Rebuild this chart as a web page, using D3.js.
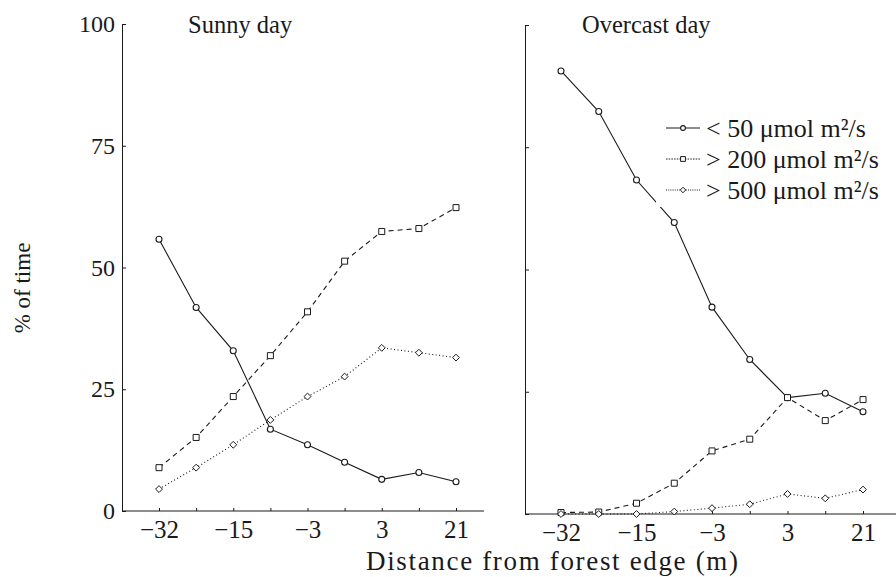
<!DOCTYPE html>
<html>
<head>
<meta charset="utf-8">
<script src="https://cdn.jsdelivr.net/npm/d3@7"></script>
<style>
	body { margin: 0; background: #fff; }
	svg text { font-family: "Liberation Serif", "Times New Roman", serif; fill: #1a1a1a; }
</style>
</head>
<body>
<svg id="chart" width="896" height="577"></svg>
<script>
// Distance categories along the x axis, only every second one is labelled
const distanceLabels = ["\u221232", "", "\u221215", "", "\u22123", "", "3", "", "21"]
const yTicks = [0, 25, 50, 75, 100]
const seriesNames = ["< 50 \u03bcmol m\u00b2/s", "> 200 \u03bcmol m\u00b2/s", "> 500 \u03bcmol m\u00b2/s"]

// Sunny day, % of time
const sunnyBelow50 = [55.8, 41.8, 32.9, 16.8, 13.6, 10.0, 6.5, 7.9, 6.0]
const sunnyAbove200 = [8.9, 15.1, 23.5, 31.9, 40.9, 51.3, 57.4, 58.0, 62.3]
const sunnyAbove500 = [4.5, 8.9, 13.6, 18.7, 23.5, 27.6, 33.5, 32.5, 31.5]

// Overcast day, % of time
const overcastBelow50 = [90.6, 82.3, 68.3, 59.6, 42.3, 31.6, 23.8, 24.7, 20.9]
const overcastAbove200 = [0.3, 0.4, 2.2, 6.3, 12.9, 15.3, 23.8, 19.1, 23.4]
const overcastAbove500 = [0, 0, 0, 0.5, 1.2, 2.0, 4.1, 3.2, 5.0]

const ink = "#1a1a1a"
const styles = [
	{ marker: "circle", dash: null, legendDash: null },
	{ marker: "square", dash: "5,4", legendDash: "1.5,1.2" },
	{ marker: "diamond", dash: "1,2.5", legendDash: "1,1.2" }
]

let svg = d3.select("#chart")

drawPanel(svg, {
	title: "Sunny day", titleX: 188,
	axisX: 122, axisEnd: 484, top: 24, bottom: 511,
	first: 159, last: 456, labels: true
}, [sunnyBelow50, sunnyAbove200, sunnyAbove500])

drawPanel(svg, {
	title: "Overcast day", titleX: 582,
	axisX: 525, axisEnd: 896, top: 25, bottom: 514,
	first: 561, last: 863, labels: false
}, [overcastBelow50, overcastAbove200, overcastAbove500])

createLegend(svg, { x: 656, y: 108, w: 240, h: 99 })

// Axis titles
svg.append("text")
	.attr("transform", "translate(30, 288) rotate(-90)")
	.attr("text-anchor", "middle")
	.attr("font-size", 23)
	.text("% of time")

svg.append("text")
	.attr("x", 366)
	.attr("y", 570)
	.attr("font-size", 27)
	.attr("textLength", 372)
	.attr("lengthAdjust", "spacing")
	.text("Distance from forest edge (m)")

/**
 * Draws one panel: axes, title and the three series.
 */
function drawPanel(svg, p, series) {
	let g = svg.append("g")

	let x = d3.scalePoint()
		.domain(d3.range(distanceLabels.length))
		.range([p.first, p.last])

	let y = d3.scaleLinear()
		.domain([0, 100])
		.range([p.bottom, p.top])

	// X-Axis
	let xAxis = g.append("g")
		.attr("transform", `translate(0, ${p.bottom})`)
		.call(d3.axisBottom(x)
			.tickSize(-3)
			.tickPadding(9)
			.tickFormat(i => distanceLabels[i]))
	xAxis.select(".domain").remove()
	xAxis.append("line")
		.attr("x1", p.axisX).attr("x2", p.axisEnd)
		.attr("stroke", ink)
	xAxis.selectAll("line").attr("stroke", ink)
	xAxis.selectAll("text").attr("font-size", 25).style("font-family", "Liberation Serif")

	// Y-Axis
	let yAxis = g.append("g")
		.attr("transform", `translate(${p.axisX}, 0)`)
		.call(d3.axisLeft(y)
			.tickValues(yTicks)
			.tickSize(-4)
			.tickSizeOuter(0)
			.tickPadding(7)
			.tickFormat(p.labels ? d3.format("d") : () => ""))
	yAxis.select(".domain").attr("stroke", ink)
	yAxis.selectAll("line").attr("stroke", ink)
	yAxis.selectAll("text").attr("font-size", 24).style("font-family", "Liberation Serif")

	g.append("text")
		.attr("x", p.titleX)
		.attr("y", 33)
		.attr("font-size", 24.5)
		.text(p.title)

	series.forEach((values, s) => {
		let st = styles[s]
		let pts = values.map((v, i) => [x(i), y(v)])

		g.append("path")
			.datum(pts)
			.attr("fill", "none")
			.attr("stroke", ink)
			.attr("stroke-width", 1.1)
			.attr("stroke-dasharray", st.dash)
			.attr("d", d3.line())

		pts.forEach(pt => drawMarker(g, st.marker, pt[0], pt[1], 1))
	})
}

/**
 * Draws a hollow marker of the given kind.
 */
function drawMarker(g, kind, cx, cy, scale) {
	if (kind === "circle") {
		g.append("circle")
			.attr("cx", cx).attr("cy", cy)
			.attr("r", 3 * scale)
			.attr("fill", "#fff")
			.attr("stroke", ink)
			.attr("stroke-width", 1.1)
		return
	}
	let type = kind === "square" ? d3.symbolSquare : d3.symbolDiamond2
	let size = kind === "square" ? 36 : 30
	g.append("path")
		.attr("transform", `translate(${cx}, ${cy})`)
		.attr("d", d3.symbol().type(type).size(size * scale * scale)())
		.attr("fill", "#fff")
		.attr("stroke", ink)
		.attr("stroke-width", 1)
}

/**
 * Legend on a white box in the overcast panel, the box hides part of a line.
 */
function createLegend(svg, box) {
	let legend = svg.append("g")
	legend.append("rect")
		.attr("x", box.x).attr("y", box.y)
		.attr("width", box.w).attr("height", box.h)
		.attr("fill", "#fff")

	const rowY = [128, 159, 190]
	seriesNames.forEach((name, i) => {
		legend.append("line")
			.attr("x1", 666).attr("x2", 700)
			.attr("y1", rowY[i]).attr("y2", rowY[i])
			.attr("stroke", ink)
			.attr("stroke-width", 1)
			.attr("stroke-dasharray", styles[i].legendDash)
		drawMarker(legend, styles[i].marker, 683, rowY[i], 0.8)

		legend.append("text")
			.attr("x", 706)
			.attr("y", rowY[i])
			.attr("dy", "0.33em")
			.attr("font-size", 26)
			.text(name)
	})
}
</script>
</body>
</html>
